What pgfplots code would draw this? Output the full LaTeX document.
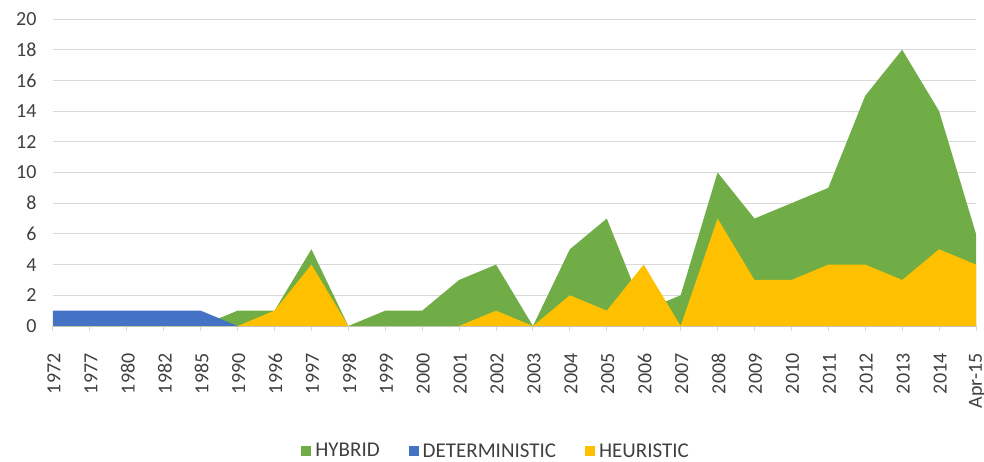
\documentclass[border=0pt]{standalone}
\usepackage{fontspec}
\setmainfont{Carlito}
\usepackage{pgfplots}
\usepackage{pgfplotstable}
\pgfplotsset{compat=1.18}

\definecolor{hybrid}{HTML}{70AD47}
\definecolor{determ}{HTML}{4472C4}
\definecolor{heur}{HTML}{FFC000}
\definecolor{gridc}{HTML}{D9D9D9}
\definecolor{txt}{HTML}{404040}

% x = category index, values per year
\pgfplotstableread{
x hyb det heu
0 0 1 0
1 0 1 0
2 0 1 0
3 0 1 0
4 0 1 0
5 1 0 0
6 1 0 1
7 5 0 4
8 0 0 0
9 1 0 0
10 1 0 0
11 3 0 0
12 4 0 1
13 0 0 0
14 5 0 2
15 7 0 1
16 1 0 4
17 2 0 0
18 10 0 7
19 7 0 3
20 8 0 3
21 9 0 4
22 15 0 4
23 18 0 3
24 14 0 5
25 6 0 4
}\datatable

\begin{document}
\begin{tikzpicture}
\begin{axis}[
  scale only axis,
  width=923pt, height=307pt,
  xmin=0, xmax=25, ymin=0, ymax=20,
  ytick={0,2,...,20},
  xtick={0,...,25},
  xticklabels={1972,1977,1980,1982,1985,1990,1996,1997,1998,1999,2000,2001,2002,2003,2004,2005,2006,2007,2008,2009,2010,2011,2012,2013,2014,Apr-15},
  axis x line*=bottom, axis y line*=left,
  y axis line style={draw=none},
  x axis line style={draw=gridc, line width=1pt},
  ytick style={draw=none},
  xtick style={draw=gridc, line width=1pt},
  tick align=outside,
  major tick length=5pt,
  ymajorgrids,
  grid style={gridc, line width=1pt},
  /pgf/number format/assume math mode=true,
  tick label style={font=\fontsize{20}{23}\selectfont, text=txt},
  xticklabel style={rotate=90, anchor=east, yshift=-1pt, xshift=-19pt},
  yticklabel style={xshift=-8pt},
  legend style={at={(0.479,-0.407)}, anchor=center, draw=none,
    legend columns=-1, font=\fontsize{21}{24}\selectfont, text=txt,
    nodes={inner sep=0pt},
    /tikz/every odd column/.append style={column sep=4pt},
    /tikz/every even column/.append style={column sep=29pt}},
  legend image code/.code={\fill[#1] (0pt,-5pt) rectangle (10pt,5pt);},
]
\addplot[fill=hybrid, draw=none] table[x=x, y=hyb]{\datatable} \closedcycle;
\addplot[fill=determ, draw=none] table[x=x, y=det]{\datatable} \closedcycle;
\addplot[fill=heur, draw=none] table[x=x, y=heu]{\datatable} \closedcycle;
\legend{HYBRID, DETERMINISTIC, HEURISTIC}
\end{axis}
\coordinate (bl) at ([shift={(-53pt,-135pt)}]current axis.south west);
\coordinate (tr) at ([shift={(8pt,19pt)}]current axis.north east);
\pgfresetboundingbox
\path (bl) rectangle (tr);
\end{tikzpicture}
\end{document}
